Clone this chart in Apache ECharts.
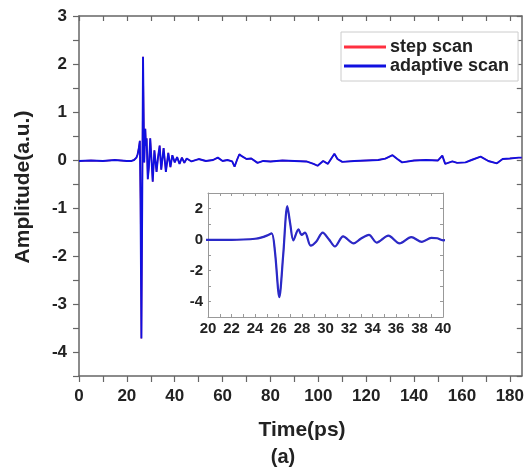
<!DOCTYPE html>
<html>
<head>
<meta charset="utf-8">
<script src="https://cdn.jsdelivr.net/npm/echarts@6/dist/echarts.min.js"></script>
<style>html,body{margin:0;padding:0;background:#fff;}#c{width:527px;height:470px;}</style>
</head>
<body>
<div id="c"></div>
<script>
// ---- data ----
var timePs = [0, 5, 10, 15, 20, 22, 23, 24, 24.5, 25, 25.42, 25.7, 26.07, 26.4, 26.75, 27.0, 27.26, 27.7, 27.97, 28.26, 28.74, 29.2, 29.76, 30.3, 30.8, 31.5, 32.4, 33.0, 33.7, 34.36, 35.35, 36.3, 37.3, 38.2, 39.0, 39.5, 40, 41, 42, 43, 44, 45, 47, 50, 53, 56, 58, 60, 62, 64, 65, 66, 67, 68, 70, 72, 74.6, 77, 80, 85, 90, 95, 98, 99.7, 102, 104, 106.7, 108, 110, 115, 120, 125, 128, 131, 133, 135, 140, 145, 150, 151.8, 153, 156, 158, 161.5, 164, 167.8, 171, 174.6, 177, 180, 183.7, 185];
var stepScan = [-0.02, -0.01, -0.02, 0.0, -0.02, -0.02, 0.0, 0.05, 0.12, 0.25, 0.4, -0.8, -3.72, -1.0, 2.15, 1.0, -0.05, 0.65, 0.3, 0.45, -0.4, -0.15, 0.45, 0.0, -0.45, 0.2, -0.25, 0.05, 0.3, -0.2, 0.25, -0.25, 0.15, -0.15, 0.1, 0.08, -0.05, 0.06, -0.08, 0.05, -0.06, 0.03, -0.03, 0.02, -0.02, 0.0, 0.05, -0.02, 0.0, -0.03, -0.14, 0.0, 0.12, 0.08, 0.02, 0.03, -0.06, -0.02, -0.03, -0.01, -0.02, -0.03, -0.08, -0.12, -0.02, -0.08, 0.13, 0.02, -0.04, -0.02, -0.01, 0.0, 0.03, 0.1, 0.02, -0.05, -0.01, 0.0, -0.01, 0.09, -0.08, -0.03, -0.06, -0.05, 0.0, 0.07, -0.02, -0.07, 0.02, 0.03, 0.05, 0.05];
var adaptiveScan = stepScan.slice();
var mainXTicks = [0, 20, 40, 60, 80, 100, 120, 140, 160, 180];
var mainYTicks = [-4, -3, -2, -1, 0, 1, 2, 3];
var insetXTicks = [20, 22, 24, 26, 28, 30, 32, 34, 36, 38, 40];
var insetYTicks = [-4, -2, 0, 2];

function pairs(xs, ys) { return xs.map(function (x, i) { return [x, ys[i]]; }); }
function halves(lo, hi) { var r = []; for (var v = lo; v <= hi + 1e-9; v += 0.5) r.push(+v.toFixed(1)); return r; }
function range(lo, hi, st) { var r = []; for (var v = lo; v <= hi + 1e-9; v += st) r.push(+v.toFixed(3)); return r; }

var FONT = 'Liberation Sans, Arial, sans-serif';
var AX = '#666';
var LBL = {fontFamily: FONT, fontWeight: 'bold', color: '#222'};

var chart = echarts.init(document.getElementById('c'), null, {renderer: 'canvas'});
var stepData = pairs(timePs, stepScan);
var adaptData = pairs(timePs, adaptiveScan);

function mainLine() { return {onZero: false, lineStyle: {color: AX, width: 1.5}}; }
function insetLine() { return {onZero: false, lineStyle: {color: '#999', width: 1}}; }

var option = {
  animation: false,
  backgroundColor: '#fff',
  grid: [
    {left: 79, top: 16, width: 444, height: 360},
    {left: 208, top: 193, width: 235, height: 124, backgroundColor: '#fff', show: true, borderWidth: 0}
  ],
  xAxis: [
    {gridIndex: 0, type: 'value', min: 0, max: 185, position: 'bottom',
     axisLine: mainLine(),
     axisTick: {customValues: range(0, 180, 10), length: 6, lineStyle: {color: AX, width: 1.2}},
     axisLabel: Object.assign({customValues: mainXTicks, fontSize: 17, margin: 12}, LBL),
     splitLine: {show: false}},
    {gridIndex: 0, type: 'value', min: 0, max: 185, position: 'top',
     axisLine: mainLine(),
     axisTick: {customValues: range(0, 180, 10), inside: true, length: 5, lineStyle: {color: AX, width: 1.2}},
     axisLabel: {show: false}, splitLine: {show: false}},
    {gridIndex: 1, type: 'value', min: 20, max: 40, position: 'bottom',
     axisLine: insetLine(),
     axisTick: {customValues: range(20, 40, 1), inside: true, length: 3, lineStyle: {color: '#999'}},
     axisLabel: Object.assign({customValues: insetXTicks, fontSize: 15, margin: 4}, LBL),
     splitLine: {show: false}},
    {gridIndex: 1, type: 'value', min: 20, max: 40, position: 'top',
     axisLine: insetLine(),
     axisTick: {customValues: range(20, 40, 1), inside: true, length: 3, lineStyle: {color: '#999'}},
     axisLabel: {show: false}, splitLine: {show: false}}
  ],
  yAxis: [
    {gridIndex: 0, type: 'value', min: -4.5, max: 3, position: 'left',
     axisLine: mainLine(),
     axisTick: {customValues: halves(-4.5, 3), length: 6, lineStyle: {color: AX, width: 1.2}},
     axisLabel: Object.assign({customValues: mainYTicks, fontSize: 17, margin: 12}, LBL),
     splitLine: {show: false}},
    {gridIndex: 0, type: 'value', min: -4.5, max: 3, position: 'right',
     axisLine: mainLine(),
     axisTick: {customValues: halves(-4.5, 3), inside: true, length: 5, lineStyle: {color: AX, width: 1.2}},
     axisLabel: {show: false}, splitLine: {show: false}},
    {gridIndex: 1, type: 'value', min: -5, max: 3, position: 'left',
     axisLine: insetLine(),
     axisTick: {customValues: range(-5, 3, 1), inside: true, length: 3, lineStyle: {color: '#999'}},
     axisLabel: Object.assign({customValues: insetYTicks, fontSize: 15, margin: 5}, LBL),
     splitLine: {show: false}},
    {gridIndex: 1, type: 'value', min: -5, max: 3, position: 'right',
     axisLine: insetLine(),
     axisTick: {customValues: range(-5, 3, 1), inside: true, length: 3, lineStyle: {color: '#999'}},
     axisLabel: {show: false}, splitLine: {show: false}}
  ],
  legend: {
    orient: 'vertical', left: 341, top: 32, padding: [6, 9, 6, 3],
    itemGap: 1, itemWidth: 42, itemHeight: 3, icon: 'rect',
    backgroundColor: '#fff', borderColor: '#ccc', borderWidth: 1,
    textStyle: {fontFamily: FONT, fontWeight: 'bold', fontSize: 18, lineHeight: 18, color: '#222', padding: [0, 0, 0, -1]},
    data: ['step scan', 'adaptive scan']
  },
  series: [
    {name: 'step scan', type: 'line', xAxisIndex: 0, yAxisIndex: 0, data: stepData, symbol: 'none',
     lineStyle: {color: '#ff3040', width: 1.4}, itemStyle: {color: '#ff3040'}, z: 2},
    {name: 'adaptive scan', type: 'line', xAxisIndex: 0, yAxisIndex: 0, data: adaptData, symbol: 'none',
     lineStyle: {color: '#1010e0', width: 1.9}, itemStyle: {color: '#1010e0'}, z: 3},
    {name: 'step scan', type: 'line', xAxisIndex: 2, yAxisIndex: 2, data: stepData, symbol: 'none', smooth: 0.3,
     lineStyle: {color: '#ff3040', width: 1.2}, z: 4},
    {name: 'adaptive scan', type: 'line', xAxisIndex: 2, yAxisIndex: 2, data: adaptData, symbol: 'none', smooth: 0.3,
     lineStyle: {color: '#2a2ac8', width: 2.2}, z: 5}
  ],
  graphic: [
    {type: 'text', x: 302, y: 430, style: {text: 'Time(ps)', font: 'bold 21px ' + FONT, fill: '#222', textAlign: 'center', textVerticalAlign: 'middle'}},
    {type: 'text', x: 283, y: 457, style: {text: '(a)', font: 'bold 20px ' + FONT, fill: '#222', textAlign: 'center', textVerticalAlign: 'middle'}},
    {type: 'text', x: 23, y: 187, rotation: Math.PI / 2, style: {text: 'Amplitude(a.u.)', font: 'bold 21px ' + FONT, fill: '#222', textAlign: 'center', textVerticalAlign: 'middle'}}
  ]
};
chart.setOption(option);
</script>
</body>
</html>
